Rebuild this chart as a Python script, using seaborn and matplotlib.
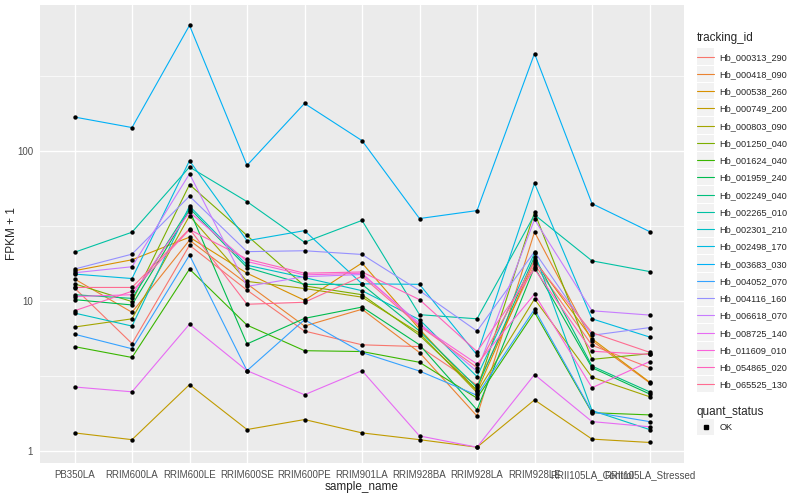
import pandas as pd
import matplotlib
matplotlib.use('Agg')
import matplotlib.pyplot as plt
import seaborn as sns
from matplotlib.lines import Line2D
from matplotlib.patches import Rectangle
from matplotlib.legend_handler import HandlerLine2D
from matplotlib.ticker import FixedLocator, NullFormatter

# sample order on the x axis
samples = ['PB350LA', 'RRIM600LA', 'RRIM600LE', 'RRIM600SE', 'RRIM600PE', 'RRIM901LA',
           'RRIM928BA', 'RRIM928LA', 'RRIM928LE', 'RRII105LA_Control', 'RRII105LA_Stressed']

tracking_ids = ['Hb_000313_290', 'Hb_000418_090', 'Hb_000538_260', 'Hb_000749_200',
                'Hb_000803_090', 'Hb_001250_040', 'Hb_001624_040', 'Hb_001959_240',
                'Hb_002249_040', 'Hb_002265_010', 'Hb_002301_210', 'Hb_002498_170',
                'Hb_003683_030', 'Hb_004052_070', 'Hb_004116_160', 'Hb_006618_070',
                'Hb_008725_140', 'Hb_011609_010', 'Hb_054865_020', 'Hb_065525_130']

# ggplot default hue palette for 20 levels
colors = ['#F8766D', '#EA8331', '#D89000', '#C09B00', '#A3A500', '#7CAE00', '#39B600',
          '#00BB4E', '#00BF7D', '#00C1A3', '#00BFC4', '#00BAE0', '#00B0F6', '#35A2FF',
          '#9590FF', '#C77CFF', '#E76BF3', '#FA62DB', '#FF62BC', '#FF6C91']

# FPKM + 1 per gene (one value per sample)
hb_000313_290 = [12.2, 5.2, 23.5, 11.8, 6.3, 5.1, 4.96, 2.75, 17.5, 5.07, 3.59]
hb_000418_090 = [14.0, 8.4, 25.4, 13.0, 6.8, 8.8, 4.53, 1.71, 28.8, 5.43, 2.85]
hb_000538_260 = [15.9, 18.8, 26.6, 15.3, 10.1, 17.9, 6.5, 2.5, 18.7, 5.6, 2.88]
hb_000749_200 = [1.32, 1.19, 2.77, 1.39, 1.62, 1.32, 1.19, 1.06, 2.19, 1.2, 1.14]
hb_000803_090 = [6.7, 7.6, 36.9, 13.5, 12.1, 10.6, 6.1, 2.45, 10.3, 3.1, 2.3]
hb_001250_040 = [13.0, 9.9, 59.6, 27.3, 12.6, 11.0, 5.9, 2.55, 38.9, 4.08, 4.45]
hb_001624_040 = [4.96, 4.2, 16.3, 6.9, 4.66, 4.6, 3.9, 2.25, 8.4, 1.80, 1.74]
hb_001959_240 = [10.2, 9.4, 40.3, 5.17, 7.65, 9.1, 5.1, 1.88, 16.8, 3.59, 2.4]
hb_002249_040 = [11.0, 10.4, 41.5, 16.7, 12.9, 12.9, 6.3, 2.65, 19.7, 3.68, 2.48]
hb_002265_010 = [21.1, 28.7, 78.0, 45.9, 24.6, 34.4, 8.1, 7.6, 37.5, 18.5, 15.7]
hb_002301_210 = [8.3, 6.8, 42.9, 17.3, 14.3, 11.7, 7.5, 3.13, 20.8, 1.86, 1.39]
hb_002498_170 = [15.1, 14.1, 86.0, 25.2, 29.4, 13.0, 12.9, 4.37, 60.7, 7.6, 5.75]
hb_003683_030 = [168, 143, 686, 80, 207, 117, 35.4, 40, 445, 44.5, 29]
hb_004052_070 = [6.0, 4.8, 20.2, 3.43, 7.5, 4.53, 3.41, 2.35, 8.8, 1.82, 1.57]
hb_004116_160 = [16.3, 20.5, 49.9, 21.3, 21.6, 20.4, 11.7, 6.3, 21.3, 5.9, 6.64]
hb_006618_070 = [15.4, 16.9, 70.3, 12.5, 14.5, 15.0, 7.1, 3.4, 34.9, 8.6, 8.05]
hb_008725_140 = [2.67, 2.48, 7.0, 3.43, 2.37, 3.43, 1.26, 1.06, 3.23, 1.57, 1.45]
hb_011609_010 = [10.7, 11.0, 39.1, 18.3, 14.9, 15.3, 6.9, 3.8, 11.1, 2.64, 3.94]
hb_054865_020 = [8.6, 11.6, 29.9, 19.0, 15.3, 15.6, 10.2, 4.6, 16.3, 4.62, 4.4]
hb_065525_130 = [12.3, 12.3, 30.2, 9.5, 9.8, 14.6, 6.8, 3.6, 18.3, 6.15, 4.55]

series = [hb_000313_290, hb_000418_090, hb_000538_260, hb_000749_200, hb_000803_090,
          hb_001250_040, hb_001624_040, hb_001959_240, hb_002249_040, hb_002265_010,
          hb_002301_210, hb_002498_170, hb_003683_030, hb_004052_070, hb_004116_160,
          hb_006618_070, hb_008725_140, hb_011609_010, hb_054865_020, hb_065525_130]

rows = []
for tid, vals in zip(tracking_ids, series):
    for i, v in enumerate(vals):
        rows.append({'tracking_id': tid, 'sample_name': samples[i], 'pos': i, 'fpkm': v})
df = pd.DataFrame(rows)


# legend key with the grey ggplot box behind it
class KeyHandler(HandlerLine2D):
    def create_artists(self, legend, orig_handle, xdescent, ydescent, width, height,
                       fontsize, trans):
        box_h = 11.8
        box = Rectangle((-xdescent, -ydescent + height / 2 - box_h / 2), width, box_h,
                        facecolor='#F2F2F2', edgecolor='none', transform=trans)
        arts = super().create_artists(legend, orig_handle, xdescent, ydescent, width,
                                      height, fontsize, trans)
        return [box] + list(arts)


sns.set_style('darkgrid', {'axes.facecolor': '#EBEBEB', 'grid.color': 'white'})
plt.rcParams['font.family'] = ['Liberation Sans', 'DejaVu Sans']

fig, ax = plt.subplots(figsize=(8, 5), dpi=100)
fig.subplots_adjust(left=0.05, right=0.855, top=0.99, bottom=0.074)

sns.lineplot(data=df, x='pos', y='fpkm', hue='tracking_id', hue_order=tracking_ids,
             palette=colors, linewidth=0.8, estimator=None, sort=False, legend=False, ax=ax)
sns.scatterplot(data=df, x='pos', y='fpkm', color='black', s=10, linewidth=0,
                legend=False, ax=ax, zorder=3)

ax.set_yscale('log')
ax.set_ylim(10 ** -0.08, 10 ** 2.972)
ax.set_xlim(-0.6, 10.6)
ax.yaxis.set_major_locator(FixedLocator([1, 10, 100]))
ax.set_yticklabels(['1', '10', '100'])
ax.yaxis.set_minor_locator(FixedLocator([10 ** 0.5, 10 ** 1.5, 10 ** 2.5]))
ax.yaxis.set_minor_formatter(NullFormatter())
ax.set_xticks(range(len(samples)))
ax.set_xticklabels(samples)

ax.grid(which='major', color='white', linewidth=1.0)
ax.grid(which='minor', color='white', linewidth=0.5)
for s in ax.spines.values():
    s.set_visible(False)
ax.tick_params(which='major', length=3, width=0.6, color='#333333', labelsize=7,
               labelcolor='#4D4D4D', pad=2)
ax.tick_params(which='minor', length=0)

ax.set_xlabel('sample_name', fontsize=8.5, labelpad=1)
ax.set_ylabel('FPKM + 1', fontsize=8.5)
ax.yaxis.set_label_coords(-0.034, 0.5)

hmap = {Line2D: KeyHandler()}
handles = [Line2D([0], [0], color=c, linewidth=0.8) for c in colors]
leg1 = fig.legend(handles, tracking_ids, title='tracking_id', loc='upper left',
                  bbox_to_anchor=(0.871, 0.935), frameon=False, fontsize=6.6,
                  title_fontsize=8.5, handlelength=1.9, handletextpad=0.6,
                  labelspacing=0.9, alignment='left', borderaxespad=0, borderpad=0,
                  handler_map=hmap)
ok = [Line2D([0], [0], marker='s', color='black', linestyle='none', markersize=2.5)]
leg2 = fig.legend(ok, ['OK'], title='quant_status', loc='upper left',
                  bbox_to_anchor=(0.871, 0.187), frameon=False, fontsize=6.6,
                  title_fontsize=8.5, handlelength=1.9, handletextpad=0.6,
                  alignment='left', borderaxespad=0, borderpad=0, handler_map=hmap)

fig.savefig('out.png', dpi=100)
